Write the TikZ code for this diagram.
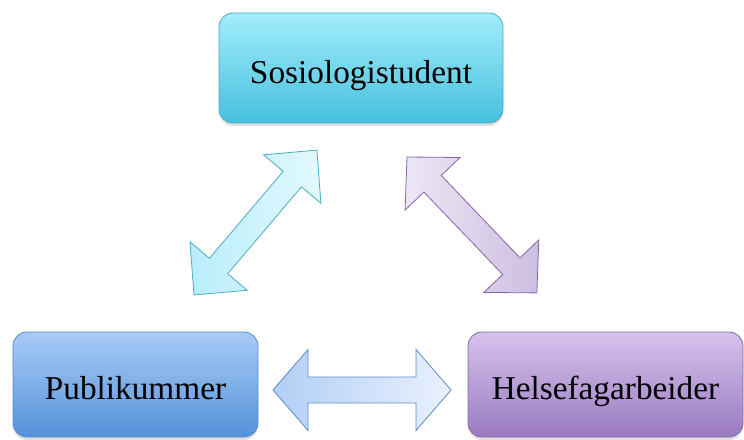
\documentclass[tikz,border=0pt]{standalone}
\usepackage{fontspec}
\setmainfont{Liberation Serif}
\usetikzlibrary{shadows}
\definecolor{cyanTop}{HTML}{A2EDFB}
\definecolor{cyanBot}{HTML}{46C0DD}
\definecolor{cyanLine}{HTML}{4BACC6}
\definecolor{blueTop}{HTML}{A8CBF7}
\definecolor{blueBot}{HTML}{5592D9}
\definecolor{blueLine}{HTML}{5A8CCB}
\definecolor{purpTop}{HTML}{D6C2EE}
\definecolor{purpBot}{HTML}{9A7BC0}
\definecolor{purpLine}{HTML}{8466A8}
\definecolor{cyanArrA}{HTML}{B9EDFB}
\definecolor{cyanArrB}{HTML}{E3F9FE}
\definecolor{purpArrA}{HTML}{EDE7F5}
\definecolor{purpArrB}{HTML}{CCBEE0}
\definecolor{blueArrA}{HTML}{B2CEF5}
\definecolor{blueArrB}{HTML}{EAF1FD}
\tikzset{
  box/.style={rounded corners=14pt, line width=0.8pt, inner sep=0pt,
    font=\fontsize{33.3}{40}\selectfont, text=black,
    text height=30pt, text depth=0pt,
    drop shadow={opacity=0.25, shadow xshift=0pt, shadow yshift=-3pt}},
  arrowshape/.style={line width=0.8pt,
    drop shadow={opacity=0.12, shadow xshift=1pt, shadow yshift=-2pt}},
  pics/dblarrow/.style args={#1/#2/#3/#4}{code={
    \path[pic actions] (0,0) -- (#2,#3) -- (#2,#4) -- ({#1-#2},#4) -- ({#1-#2},#3)
      -- (#1,0) -- ({#1-#2},-#3) -- ({#1-#2},-#4) -- (#2,-#4) -- (#2,-#3) -- cycle;
  }}
}
\begin{document}
\begin{tikzpicture}[x=1pt,y=-1pt]
\path[use as bounding box] (0,0) rectangle (744,439);
% arrows
\pic[arrowshape, draw=cyanLine, left color=cyanArrA, right color=cyanArrB, rotate=49.7] (arrA) at (194,295) {dblarrow=190/38/37.5/12};
\pic[arrowshape, draw=purpLine, left color=purpArrA, right color=purpArrB, rotate=-46.3] (arrB) at (407,157) {dblarrow=188/37/38/12};
\pic[arrowshape, draw=blueLine, left color=blueArrA, right color=blueArrB] (arrC) at (273,390) {dblarrow=178/35/40.5/13};
% boxes
\node[box, draw=cyanLine, top color=cyanTop, bottom color=cyanBot, minimum width=284pt, minimum height=110pt] (soc) at (361,68) {Sosiologistudent};
\node[box, draw=blueLine, top color=blueTop, bottom color=blueBot, minimum width=245pt, minimum height=105pt] (pub) at (135.5,384.5) {Publikummer};
\node[box, draw=purpLine, top color=purpTop, bottom color=purpBot, minimum width=275pt, minimum height=105pt] (hel) at (605.5,384.5) {Helsefagarbeider};
\end{tikzpicture}
\end{document}
